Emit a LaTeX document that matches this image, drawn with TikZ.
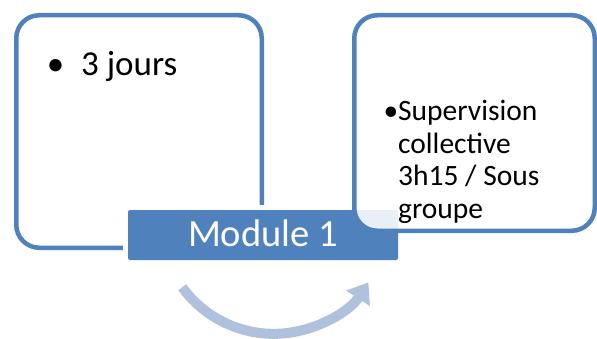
\documentclass[tikz,border=0pt]{standalone}
\usepackage{fontspec}
\setmainfont{Carlito}
\usetikzlibrary{arrows.meta}
\definecolor{accblue}{RGB}{79,129,189}
\definecolor{arcblue}{RGB}{176,193,222}
\tikzset{
  framebox/.style={draw=accblue, line width=4.5pt, rounded corners=23pt, fill=white},
  modbox/.style={fill=accblue, rounded corners=2pt, minimum width=270pt, minimum height=50pt,
    inner sep=0pt, text=white, font=\fontsize{38.5pt}{42pt}\selectfont, text height=27pt, text depth=4pt,
    preaction={draw=white, line width=10pt}},
  bodytext/.style={inner sep=0pt, align=left, text=black},
  cyclearrow/.style={draw=arcblue, line width=10pt, -{Triangle[length=19pt,width=27pt]}}
}
\begin{document}
\begin{tikzpicture}[x=1pt,y=1pt]
\useasboundingbox (0,0) rectangle (597,338);
\clip (0,0) rectangle (597,338);
% left frame
\path[framebox] (16.25,90.25) rectangle (261.75,322.75);
\node[bodytext, anchor=base west, font=\fontsize{35pt}{38pt}\selectfont] (t1) at (81,262) {\llap{•\hspace{17pt}}3 jours};
% module box
\node[modbox] (mod) at (263,103) {Module 1};
% right frame
\path[framebox, fill opacity=0.88] (354.25,107.25) rectangle (594.75,322.75);
\node[bodytext, anchor=base west, font=\fontsize{29.5pt}{32.5pt}\selectfont] (t2) at (398,120)
  {\llap{•}Supervision\\collective\\3h15 / Sous\\groupe};
% cycle arrow
\coordinate (c) at (272,116);
\draw[cyclearrow] (c) ++(216:111) arc[start angle=216, end angle=327, radius=113];
\end{tikzpicture}
\end{document}
